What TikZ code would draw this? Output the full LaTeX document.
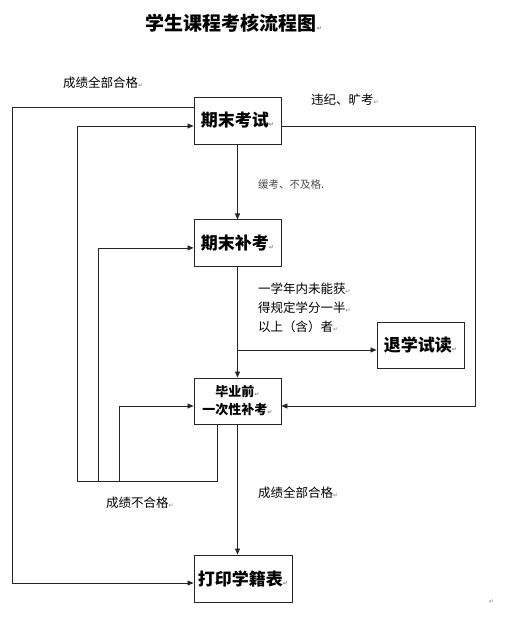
\documentclass[tikz,border=0pt]{standalone}
\usepackage{fontspec}
\setmainfont{Noto Sans CJK SC}
\newfontfamily\symfont{DejaVu Sans}
\usepackage{xcolor}
\usetikzlibrary{arrows.meta,positioning}
\newcommand{\pmark}{{\symfont\fontsize{6}{6}\selectfont\color{gray}↵}}

\begin{document}
\begin{tikzpicture}[
    x=1pt, y=-1pt,
    box/.style={rectangle, draw=black!85, line width=0.9pt, minimum width=87pt, minimum height=47pt, inner sep=2pt, align=center, font=\bfseries\fontsize{17}{20}\selectfont},
    arrow/.style={-{Triangle[length=6pt,width=5pt]}, line width=0.8pt, draw=black!85},
    note/.style={anchor=west, inner sep=0pt, align=left, font=\fontsize{12.5}{19}\selectfont}
]
    \useasboundingbox (0,0) rectangle (518,629);
    \node[font=\bfseries\fontsize{19}{22}\selectfont] (title) at (234,23) {学生课程考核流程图\pmark};

    % boxes
    \node[box] (exam) at (237.5,120.5) {期末考试\pmark};
    \node[box, below=75pt of exam] (resit) {期末补考\pmark};
    \node[box, minimum height=46pt, font=\bfseries\fontsize{13}{18}\selectfont] (grad) at (237.5,401) {毕业前\pmark\\一次性补考\pmark};
    \node[box, minimum height=46pt] (probation) at (420.5,345) {退学试读\pmark};
    \node[box, minimum width=98pt] (record) at (243,578.5) {打印学籍表\pmark};

    % labels
    \node[note] (passall) at (63,83) {成绩全部合格\pmark};
    \node[note] (misconduct) at (311,100) {违纪、旷考\pmark};
    \node[note, font=\fontsize{10.5}{12}\selectfont, text=black!70] (deferfail) at (258,185) {缓考、不及格.};
    \node[note] (halfcredit) at (258,308) {一学年内未能获\pmark\\得规定学分一半\pmark\\以上（含）者\pmark};
    \node[note] (passfinal) at (258,493) {成绩全部合格\pmark};
    \node[note] (failall) at (106,503) {成绩不合格\pmark};
    \node[anchor=west, inner sep=0pt] (endmark) at (489,602) {\pmark};

    % helper points
    \coordinate (split) at (resit.south |- 0,350);
    \coordinate (outer) at (12,583);
    \coordinate (failbase) at (77,481);
    \coordinate (failmid) at (98,481);
    \coordinate (failin) at (119,481);
    \coordinate (rightc) at (475,406);

    % main line
    \draw[arrow] (exam) -- (resit);
    \draw[arrow] (resit) -- (grad);
    \draw[arrow] (split) -- (split -| probation.west);
    \draw[arrow] (grad.south) -- (grad.south |- record.north);

    % loops
    \draw[arrow] ([yshift=13.5pt]exam.west) -| (outer) -- (outer -| record.west);
    \draw[arrow] ([yshift=-5.5pt]exam.east) -| (rightc) -- (rightc -| grad.east);
    \draw[arrow] ([xshift=-20.5pt]grad.south) |- (failbase) |- ([yshift=-5.5pt]exam.west);
    \draw[arrow] (failmid) |- ([yshift=-4.5pt]resit.west);
    \draw[arrow] (failin) |- (failin |- rightc) -- (rightc -| grad.west);
\end{tikzpicture}
\end{document}
